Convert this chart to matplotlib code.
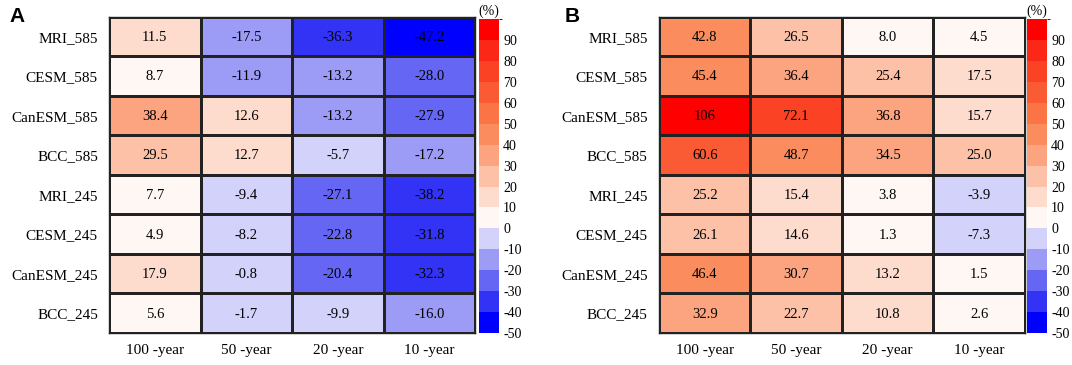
import matplotlib
matplotlib.use("Agg")
import matplotlib.pyplot as plt
import numpy as np
from matplotlib.colors import ListedColormap, BoundaryNorm
from matplotlib.colorbar import ColorbarBase

plt.rcParams["axes.unicode_minus"] = False

rows = ["MRI_585", "CESM_585", "CanESM_585", "BCC_585",
        "MRI_245", "CESM_245", "CanESM_245", "BCC_245"]
cols = ["100 -year", "50 -year", "20 -year", "10 -year"]

vals_a = [[11.5, -17.5, -36.3, -47.2],
          [8.7, -11.9, -13.2, -28.0],
          [38.4, 12.6, -13.2, -27.9],
          [29.5, 12.7, -5.7, -17.2],
          [7.7, -9.4, -27.1, -38.2],
          [4.9, -8.2, -22.8, -31.8],
          [17.9, -0.8, -20.4, -32.3],
          [5.6, -1.7, -9.9, -16.0]]

vals_b = [[42.8, 26.5, 8.0, 4.5],
          [45.4, 36.4, 25.4, 17.5],
          [106, 72.1, 36.8, 15.7],
          [60.6, 48.7, 34.5, 25.0],
          [25.2, 15.4, 3.8, -3.9],
          [26.1, 14.6, 1.3, -7.3],
          [46.4, 30.7, 13.2, 1.5],
          [32.9, 22.7, 10.8, 2.6]]

labels_b = [["42.8", "26.5", "8.0", "4.5"],
            ["45.4", "36.4", "25.4", "17.5"],
            ["106", "72.1", "36.8", "15.7"],
            ["60.6", "48.7", "34.5", "25.0"],
            ["25.2", "15.4", "3.8", "-3.9"],
            ["26.1", "14.6", "1.3", "-7.3"],
            ["46.4", "30.7", "13.2", "1.5"],
            ["32.9", "22.7", "10.8", "2.6"]]

bounds = list(range(-50, 101, 10))
cbar_ticks = list(range(-50, 91, 10))
colors = ["#0000ff", "#3333f5", "#6666f5", "#9c9cf7", "#d2d2fa",
          "#fff7f3", "#fddccd", "#fcc1a6", "#fba47f", "#fb8c5d",
          "#fb7446", "#fb5b34", "#fb4224", "#fb2817", "#ff0000"]
cmap = ListedColormap(colors)
norm = BoundaryNorm(bounds, cmap.N)

serif = "Liberation Serif"
fig = plt.figure(figsize=(10.72, 3.65), dpi=100)

def panel(left, cleft, vals, letter, lx, texts=None):
    ax = fig.add_axes([left, 0.0877, 0.3414, 0.866])
    data = np.array(vals, dtype=float)
    data_c = np.clip(data, -50, 99.9)
    ax.pcolormesh(np.arange(len(cols) + 1), np.arange(len(rows) + 1), data_c,
                  cmap=cmap, norm=norm, edgecolor="#222222", linewidth=0.8)
    ax.set_xlim(0, len(cols))
    ax.set_ylim(len(rows), 0)
    for i in range(len(rows)):
        for j in range(len(cols)):
            t = texts[i][j] if texts else f"{vals[i][j]:.1f}"
            ax.text(j + 0.5, i + 0.52, t, ha="center", va="center",
                    fontsize=10.5, family=serif, color="black")
    ax.set_xticks(np.arange(len(cols)) + 0.5)
    ax.set_xticklabels(cols, fontsize=11, family=serif)
    ax.set_yticks(np.arange(len(rows)) + 0.5)
    ax.set_yticklabels(rows, fontsize=11, family=serif)
    ax.tick_params(length=0, pad=8)
    for s in ax.spines.values():
        s.set_linewidth(1.0)
        s.set_color("#222222")
    cax = fig.add_axes([cleft, 0.0877, 0.0187, 0.860])
    cb = ColorbarBase(cax, cmap=cmap, norm=norm, boundaries=bounds,
                      ticks=cbar_ticks, orientation="vertical")
    cb.outline.set_visible(False)
    cax.tick_params(length=0, pad=3, labelsize=10)
    for lab in cax.get_yticklabels():
        lab.set_family(serif)
    cax.text(0.5, 1.005, "(%)", transform=cax.transAxes, ha="center",
             va="bottom", fontsize=10, family=serif)
    fig.text(lx, 0.955, letter, fontsize=15, fontweight="bold",
             family="Liberation Sans", ha="left", va="center")

panel(0.1017, 0.4468, vals_a, "A", 0.009)
panel(0.6147, 0.958, vals_b, "B", 0.527, labels_b)

fig.savefig("out.png", dpi=100)
